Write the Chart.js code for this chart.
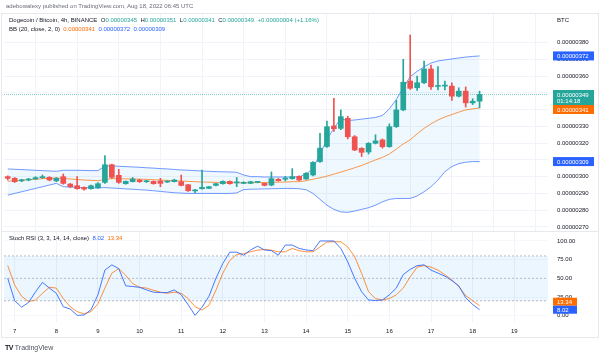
<!DOCTYPE html>
<html><head><meta charset="utf-8">
<script src="https://cdn.jsdelivr.net/npm/chart.js@4.4.0/dist/chart.umd.min.js"></script>
<style>
 html,body{margin:0;padding:0;background:#fff;}
 #wrap{position:relative;width:600px;height:356px;overflow:hidden;font-family:"Liberation Sans","DejaVu Sans",sans-serif;}
 canvas{position:absolute;left:0;}
 .t{position:absolute;font-size:6px;line-height:7px;white-space:pre;color:#131722;}
 .frame{position:absolute;left:1px;top:13px;width:598px;height:325px;border:1px solid #e6e8ee;box-sizing:border-box;}
 .sep{position:absolute;left:1px;top:231px;width:598px;height:1px;background:#e6e8ee;}
</style></head><body>
<div id="wrap">
<canvas id="main" width="600" height="217" style="top:14px;width:600px;height:217px"></canvas>
<canvas id="osc" width="600" height="107" style="top:231px;width:600px;height:107px"></canvas>
<div class="frame"></div><div class="sep"></div>
<div class="t" style="left:6px;top:3px;color:#6a6d78">adebowalexy published on TradingView.com, Aug 18, 2022 06:45 UTC</div>
<div class="t" id="leg1" style="left:9px;top:17px"></div>
<div class="t" id="leg2" style="left:9px;top:26px"></div>
<div class="t" id="leg3" style="left:9px;top:235px"></div>
<div class="t" style="left:557px;top:17px">BTC</div>
<div class="t" style="left:5px;top:344px;font-size:7px;line-height:8px;color:#131722"><b style="letter-spacing:-0.5px">TV</b> <span style="color:#50535e">TradingView</span></div>
</div>
<script>
// ---- data (prices in satoshi, 1e-8 BTC) ----
const START_DAY = 6 + 20/24;   // first 4h candle: Aug 6, 20:00 UTC
const STEP = 4/24;             // 4h candles
const opens = [300,299,297.5,298,298.6,299.4,299.6,297.5,300,295.6,
  294.6,293.6,292.8,293.4,296.6,307.1,300.8,295.8,297,298,
  297,297.2,297.4,296.8,297,297,295.2,291.5,292.8,293,
  294.8,295.8,297.2,296.3,296,296,296.6,296,295,298.4,
  298.5,298.8,300.2,298.6,301,309,318,330.2,328.8,334.8,
  323.8,316.9,314.7,319.9,321.9,317.9,329.8,339.8,357,353,
  356,364.2,353.8,354,354,348,351,344,345];
const highs = [300.5,299.5,298.5,299,300,301,300,299.5,301.6,296,
  300,294,295,296.5,312.5,307.5,304.4,297.5,299.5,298.5,
  297.8,297.5,299,297.5,298.5,301,295.5,292.5,304,294.3,
  296,297.5,297.5,299.5,297,297.3,297.2,296.3,302.8,299,
  300.2,304.8,300.5,302.5,309,325.8,333.2,346.7,339.8,336,
  324.5,317.3,320.3,325,322.5,331.5,345.5,370,384.5,360,
  369,366.5,365.6,357,356,353,353.5,346.5,351];
const lows = [298,296.5,297,297.5,298.3,299,297.5,297,295.5,293.5,
  292.5,292,292.5,293,296,299,296,295.5,296.8,296.5,
  296.5,295.5,294,296.5,296.8,294.5,291.2,290.3,292.5,292.8,
  294.5,295.5,295.5,294,295.8,295.8,296.3,294.5,294.5,297.3,
  297.5,298.5,297.5,298.3,300.5,308.5,317.5,327,328,322.5,
  315.5,312,313.5,319.5,317,317.5,329.3,339.3,352,351.5,
  355.5,352,351.7,351.7,345.5,347.5,341.5,343,341];
const closes = [299,297,298,298.6,299.4,299.8,298,299,296,294,
  292.8,292.6,294.6,295.8,307.1,299.6,296.6,297.2,298.6,297,
  297.2,295.8,296,297.2,298,294.8,291.6,291.8,293.6,294,
  295.8,297.2,295.8,296.6,296.6,297,296.8,294.8,298.8,297.6,
  298.6,300,298,302,308.5,317,329.8,328.6,335.8,323.8,
  315.9,314.5,319.9,321.3,317.9,329.8,339.8,356.3,352.7,356,
  364.2,353.6,354.2,354.3,348,351,344,345,349];
const bbUpper = [304.6,304.4,304.2,304,303.8,303.6,303.4,303.2,303.8,303.8,
  303.8,303.7,303.6,303.6,306.3,306.5,306.2,306,305.8,305.6,
  305.3,305.1,304.8,304.6,304.3,304,303.8,303.6,303.4,303.2,
  303,302.9,302.8,302.6,301,300,300,299.8,299.8,299.8,
  299.8,299.8,299.9,301.5,305,313.5,322,329,334.5,333.5,
  333.8,334.3,334.8,335.3,336.5,340.5,346,353,359.7,362.8,
  365.5,367.8,369,369.6,370.2,370.8,371.3,371.7,372];
const bbBasis = [297.3,297.6,297.9,298.2,298.5,298.8,299,299.2,299,298.6,
  298.3,298,297.8,297.6,298.4,298.8,298.8,298.7,298.6,298.5,
  298.4,298.2,298,297.8,297.6,297.4,297.2,297,296.8,296.7,
  296.6,296.5,296.4,296.4,296.4,296.4,296.5,296.5,296.6,296.7,
  296.8,297,297,297.6,298.5,299.3,300.3,301.5,302.7,304,
  305.3,306.7,308.3,310,311.5,313.5,316.5,319.5,322,325.5,
  328.8,331.5,333.8,335.6,337,338.5,339.8,340.4,341];
const bbLower = [289,290,291,292,293,294,295,296,294,293.8,
  293.6,293.4,293.3,293.2,293.5,293.2,293,292.7,292.5,292.2,
  292,291.6,291.2,290.8,290.4,290.2,290,290,290,290,
  290,290,290,290.3,292.3,292.5,292.6,292.7,292.8,292.9,
  293,293,292.8,292.2,290,286.5,283,280.5,279,278.7,
  279.5,280.5,281.5,283,285,286.5,287,287,287,288.5,
  291,294,298,303,306,307.8,308.6,309,309];
const stochK = [50,20,11.5,17.7,32,44.6,37,30,12,9,
  0.5,1,8,28,61,68,63,40,39,38,
  34.5,31.5,31,31,34.5,28,14.6,0.5,11.5,26,
  50,70,85,85,81,88,93,88,87,81,
  94.5,94.5,90,88,87,100,100,100,90,72,
  50,32,21,20.4,21,28,37,55,62,67,
  68,61,57,53,47,40,24,15,8.02];
const stochD = [67,41,26,19,21,30,38,37,23,12,
  5.5,2.5,5.5,16,37,57,63,54,43,38,
  37,34,31.5,30,31.5,30,23,12,7.5,14,
  34,57,74,82,83,85.5,87.7,88.6,87.7,85.5,
  85.5,90,87,85.5,85.5,92,98.6,99,99,92,
  79,56.6,32,23,21,23,28,37,52,65,
  67,65,61,55,48,39,27,20,13.34];
const dayTicks = [7,8,9,10,11,12,13,14,15,16,17,18,19];
const priceTicks = [270,280,290,300,310,320,330,340,350,360,370,380];
const stochTicks = [0,25,50,75,100];
const stochBands = [80,50,20];
const countdown = '01:14:18';

// ---- view ----
const X_MIN = 6.743, X_MAX = 19.81;
const UP = '#26a69a', DOWN = '#ef5350', BLUE = '#2962ff', ORANGE = '#ff6d00';
const GRID = '#f0f3fa';
const FONT = {family: '"Liberation Sans", "DejaVu Sans", sans-serif', size: 6};
const fmt = v => (v / 1e8).toFixed(8);
const days = opens.map((_, i) => START_DAY + i * STEP);
const N = opens.length, L = N - 1;
const candleColor = ctx => closes[ctx.dataIndex] >= opens[ctx.dataIndex] ? UP : DOWN;

// legends
const last = L;
const lastColor = closes[last] >= opens[last] ? UP : DOWN;
const chg = closes[last] - closes[last - 1];
const sp = (c, t) => `<span style="color:${c}">${t}</span>`;
document.getElementById('leg1').innerHTML =
  'Dogecoin / Bitcoin, 4h, BINANCE  O' + sp(lastColor, fmt(opens[last])) +
  '  H' + sp(lastColor, fmt(highs[last])) + '  L' + sp(lastColor, fmt(lows[last])) +
  '  C' + sp(lastColor, fmt(closes[last])) + '  ' +
  sp(lastColor, (chg >= 0 ? '+' : '') + fmt(chg) + ' (' + (chg >= 0 ? '+' : '') + (chg / closes[last - 1] * 100).toFixed(2) + '%)');
document.getElementById('leg2').innerHTML =
  'BB (20, close, 2, 0)  ' + sp(ORANGE, fmt(bbBasis[last])) + '  ' + sp(BLUE, fmt(bbUpper[last])) + '  ' + sp(BLUE, fmt(bbLower[last]));
document.getElementById('leg3').innerHTML =
  'Stoch RSI (3, 3, 14, 14, close)  ' + sp(BLUE, stochK[last].toFixed(2)) + '  ' + sp(ORANGE, stochD[last].toFixed(2));

function boxPlugin(getItems, boxW, upward) {
  return {
    id: 'boxes',
    afterDraw(chart) {
      const ctx = chart.ctx, ys = chart.scales.y;
      const items = getItems().map(it => {
        const h = it.sub ? 15 : it.h;
        const y = ys.getPixelForValue(it.v);
        return Object.assign({}, it, {hh: h, top: y - it.h / 2});
      }).sort((a, b) => a.top - b.top);
      if (!upward) {
        for (let i = 1; i < items.length; i++) {
          const pb = items[i - 1].top + items[i - 1].hh;
          if (items[i].top < pb) items[i].top = pb;
        }
      } else {
        for (let i = items.length - 2; i >= 0; i--) {
          if (items[i].top + items[i].hh > items[i + 1].top) items[i].top = items[i + 1].top - items[i].hh;
        }
      }
      ctx.save();
      ctx.font = `${FONT.size}px ${FONT.family}`;
      ctx.textBaseline = 'middle';
      ctx.textAlign = 'left';
      const x0 = chart.chartArea.right + 5;
      items.forEach(it => {
        ctx.fillStyle = it.color;
        ctx.fillRect(x0, it.top, boxW, it.hh);
        ctx.fillStyle = '#ffffff';
        ctx.fillText(it.label, x0 + 4, it.top + it.h / 2 + 0.5);
        if (it.sub) ctx.fillText(it.sub, x0 + 4, it.top + it.h / 2 + 7);
      });
      ctx.restore();
    }
  };
}

const zeroPad = s => { s.paddingTop = 0; s.paddingBottom = 0; s.paddingLeft = 0; s.paddingRight = 0; };

// ---- main price chart ----
new Chart(document.getElementById('main'), {
  type: 'bar',
  data: {
    datasets: [
      {type: 'line', data: bbUpper.map((v, i) => ({x: days[i], y: v})), borderColor: 'rgba(41,98,255,0.65)', borderWidth: 1,
       pointRadius: 0, fill: 2, backgroundColor: 'rgba(33,150,243,0.07)', order: 4, tension: 0},
      {type: 'line', data: bbBasis.map((v, i) => ({x: days[i], y: v})), borderColor: 'rgba(255,109,0,0.7)', borderWidth: 1,
       pointRadius: 0, fill: false, order: 3},
      {type: 'line', data: bbLower.map((v, i) => ({x: days[i], y: v})), borderColor: 'rgba(41,98,255,0.65)', borderWidth: 1,
       pointRadius: 0, fill: false, order: 5},
      {type: 'line', data: [{x: X_MIN, y: closes[L]}, {x: X_MAX, y: closes[L]}], borderColor: 'rgba(38,166,154,0.55)', borderWidth: 1,
       borderDash: [1, 1], pointRadius: 0, fill: false, order: 2},
      {type: 'bar', data: lows.map((l, i) => ({x: days[i], y: [l, highs[i]]})), backgroundColor: candleColor,
       barThickness: 1, grouped: false, order: 1},
      {type: 'bar', data: opens.map((o, i) => ({x: days[i], y: [o, closes[i]]})), backgroundColor: candleColor,
       barThickness: 5, grouped: false, minBarLength: 1, order: 0}
    ]
  },
  options: {
    responsive: false, animation: false, devicePixelRatio: 1,
    layout: {padding: {left: 4, top: 0, right: 0, bottom: 0}},
    plugins: {legend: {display: false}, tooltip: {enabled: false}},
    scales: {
      x: {type: 'linear', min: X_MIN, max: X_MAX, offset: false,
          ticks: {display: false, stepSize: 1, includeBounds: false},
          afterBuildTicks: s => { s.ticks = dayTicks.map(v => ({value: v})); },
          grid: {color: GRID, drawTicks: false}, border: {display: false},
          afterFit: s => { s.height = 0; zeroPad(s); }},
      y: {position: 'right', min: 267.6, max: 397,
          afterBuildTicks: s => { s.ticks = priceTicks.map(v => ({value: v})); },
          ticks: {font: FONT, color: '#131722', padding: 9, callback: v => fmt(v)},
          grid: {color: GRID, drawTicks: false}, border: {display: false},
          afterFit: s => { s.width = 52; zeroPad(s); }}
    }
  },
  plugins: [boxPlugin(() => [
    {v: bbUpper[L], label: fmt(bbUpper[L]), color: BLUE, h: 9},
    {v: closes[L], label: fmt(closes[L]), sub: countdown, color: UP, h: 9},
    {v: bbBasis[L], label: fmt(bbBasis[L]), color: ORANGE, h: 9},
    {v: bbLower[L], label: fmt(bbLower[L]), color: BLUE, h: 9}
  ], 41, false)]
});

// ---- stoch RSI chart ----
const band = v => [{x: X_MIN, y: v}, {x: X_MAX, y: v}];
new Chart(document.getElementById('osc'), {
  type: 'line',
  data: {
    datasets: [
      {data: band(stochBands[0]), borderColor: 'rgba(120,123,134,0.5)', borderWidth: 1, borderDash: [2, 2],
       pointRadius: 0, fill: 2, backgroundColor: 'rgba(33,150,243,0.09)', order: 4},
      {data: band(stochBands[1]), borderColor: 'rgba(120,123,134,0.4)', borderWidth: 1, borderDash: [2, 2],
       pointRadius: 0, fill: false, order: 3},
      {data: band(stochBands[2]), borderColor: 'rgba(120,123,134,0.5)', borderWidth: 1, borderDash: [2, 2],
       pointRadius: 0, fill: false, order: 5},
      {data: stochK.map((v, i) => ({x: days[i], y: v})), borderColor: 'rgba(41,98,255,0.85)', borderWidth: 1, pointRadius: 0, fill: false, order: 0},
      {data: stochD.map((v, i) => ({x: days[i], y: v})), borderColor: 'rgba(255,109,0,0.75)', borderWidth: 1, pointRadius: 0, fill: false, order: 1}
    ]
  },
  options: {
    responsive: false, animation: false, devicePixelRatio: 1,
    layout: {padding: {left: 4, top: 1, right: 0, bottom: 0}},
    plugins: {legend: {display: false}, tooltip: {enabled: false}},
    scales: {
      x: {type: 'linear', min: X_MIN, max: X_MAX,
          afterBuildTicks: s => { s.ticks = dayTicks.map(v => ({value: v})); },
          ticks: {font: FONT, color: '#131722', padding: 6, maxRotation: 0, autoSkip: false, callback: v => String(v)},
          grid: {color: GRID, drawTicks: false}, border: {display: false},
          afterFit: s => { s.height = 16; zeroPad(s); }},
      y: {position: 'right', min: -8.4, max: 112,
          afterBuildTicks: s => { s.ticks = stochTicks.map(v => ({value: v})); },
          ticks: {font: FONT, color: '#131722', padding: 9, callback: v => Number(v).toFixed(2)},
          grid: {color: 'rgba(240,243,250,0.6)', drawTicks: false}, border: {display: false},
          afterFit: s => { s.width = 52; zeroPad(s); }}
    }
  },
  plugins: [boxPlugin(() => [
    {v: stochD[L], label: stochD[L].toFixed(2), color: ORANGE, h: 8},
    {v: stochK[L], label: stochK[L].toFixed(2), color: BLUE, h: 8}
  ], 24, true)]
});
</script>
</body></html>
